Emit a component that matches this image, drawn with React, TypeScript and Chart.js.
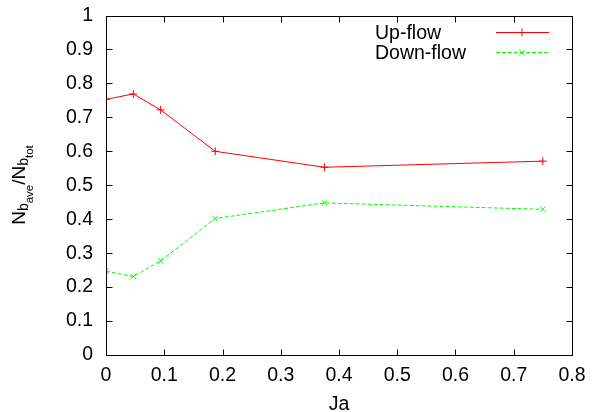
import React, { useEffect, useRef } from "react";
import { Chart, registerables } from "chart.js";

Chart.register(...registerables);

const ja = [0, 0.046875, 0.09375, 0.1875, 0.375, 0.75];
const upFlow = [0.753, 0.769, 0.722, 0.6, 0.553, 0.571];
const downFlow = [0.247, 0.231, 0.277, 0.402, 0.448, 0.429];
const seriesLabels = ["Up-flow", "Down-flow"];
const xTitle = "Ja";
const FONT = '"Liberation Sans", Arial, Helvetica, sans-serif';
const FS = 19.5;

function fmt(v: number) {
  return String(Number(v.toFixed(2)));
}

function drawMarker(ctx: CanvasRenderingContext2D, style: string, x: number, y: number, r: number) {
  ctx.beginPath();
  if (style === "cross") {
    ctx.moveTo(x - r, y);
    ctx.lineTo(x + r, y);
    ctx.moveTo(x, y - r);
    ctx.lineTo(x, y + r);
  } else {
    const d = r * 0.75;
    ctx.moveTo(x - d, y - d);
    ctx.lineTo(x + d, y + d);
    ctx.moveTo(x - d, y + d);
    ctx.lineTo(x + d, y - d);
  }
  ctx.stroke();
}

const framePlugin = {
  id: "gnuFrame",
  afterDraw(chart: any) {
    const ctx: CanvasRenderingContext2D = chart.ctx;
    const { left, right, top, bottom } = chart.chartArea;
    const xs = chart.scales.x;
    const ys = chart.scales.y;
    ctx.save();
    ctx.strokeStyle = "#000";
    ctx.lineWidth = 1;
    const L = Math.round(left) + 0.5;
    const R = Math.round(right) + 0.5;
    const T = Math.round(top) + 0.5;
    const B = Math.round(bottom) + 0.5;
    ctx.strokeRect(L, T, R - L, B - T);
    const tl = 6;
    ctx.beginPath();
    xs.ticks.forEach((t: any) => {
      const px = Math.round(xs.getPixelForValue(t.value)) + 0.5;
      ctx.moveTo(px, B);
      ctx.lineTo(px, B - tl);
      ctx.moveTo(px, T);
      ctx.lineTo(px, T + tl);
    });
    ys.ticks.forEach((t: any) => {
      const py = Math.round(ys.getPixelForValue(t.value)) + 0.5;
      ctx.moveTo(L, py);
      ctx.lineTo(L + tl, py);
      ctx.moveTo(R, py);
      ctx.lineTo(R - tl, py);
    });
    ctx.stroke();

    // legend
    const styles = ["cross", "crossRot"];
    chart.data.datasets.forEach((ds: any, i: number) => {
      const y = Math.round(top + 16 + i * 20.7) + 0.5;
      ctx.fillStyle = "#000";
      ctx.font = `${FS}px ${FONT}`;
      ctx.textAlign = "left";
      ctx.textBaseline = "middle";
      ctx.fillText(ds.label, right - 197, y + 1);
      ctx.strokeStyle = ds.borderColor;
      ctx.lineWidth = 1;
      ctx.setLineDash(ds.borderDash || []);
      ctx.beginPath();
      ctx.moveTo(right - 76, y);
      ctx.lineTo(right - 23, y);
      ctx.stroke();
      ctx.setLineDash([]);
      drawMarker(ctx, styles[i], right - 50, y, 4);
    });

    // x title
    ctx.fillStyle = "#000";
    ctx.font = `${FS}px ${FONT}`;
    ctx.textAlign = "center";
    ctx.textBaseline = "alphabetic";
    ctx.fillText(xTitle, (left + right) / 2, 410);

    // y title with subscripts
    const segs = [
      { t: "N", s: 19, dy: 0 },
      { t: "b", s: 14, dy: 3 },
      { t: "ave", s: 11.5, dy: 8 },
      { t: "/", s: 19, dy: 0 },
      { t: "N", s: 19, dy: 0 },
      { t: "b", s: 14, dy: 3 },
      { t: "tot", s: 11.5, dy: 8 },
    ];
    let total = 0;
    segs.forEach((sg) => {
      ctx.font = `${sg.s}px ${FONT}`;
      total += ctx.measureText(sg.t).width;
    });
    ctx.save();
    ctx.translate(25, 185);
    ctx.rotate(-Math.PI / 2);
    ctx.textAlign = "left";
    let cx = -total / 2;
    segs.forEach((sg) => {
      ctx.font = `${sg.s}px ${FONT}`;
      ctx.fillText(sg.t, cx, sg.dy);
      cx += ctx.measureText(sg.t).width;
    });
    ctx.restore();
    ctx.restore();
  },
};

export default function App() {
  const ref = useRef<HTMLCanvasElement | null>(null);
  useEffect(() => {
    if (!ref.current) return;
    const chart = new Chart(ref.current, {
      type: "line",
      data: {
        datasets: [
          {
            label: seriesLabels[0],
            data: ja.map((x, i) => ({ x, y: upFlow[i] })),
            borderColor: "#ff0000",
            backgroundColor: "#ff0000",
            borderWidth: 1,
            pointStyle: "cross",
            pointRadius: 4,
            pointBorderWidth: 1,
            pointBorderColor: "#ff0000",
            tension: 0,
          },
          {
            label: seriesLabels[1],
            data: ja.map((x, i) => ({ x, y: downFlow[i] })),
            borderColor: "#00ff00",
            backgroundColor: "#00ff00",
            borderWidth: 1,
            borderDash: [4, 2],
            pointStyle: "crossRot",
            pointRadius: 4,
            pointBorderWidth: 1,
            pointBorderColor: "#00ff00",
            tension: 0,
          },
        ],
      },
      options: {
        animation: false,
        responsive: true,
        maintainAspectRatio: false,
        layout: { padding: { top: 15.5, right: 20, left: 0, bottom: 0 } },
        plugins: { legend: { display: false }, tooltip: { enabled: false } },
        scales: {
          x: {
            type: "linear",
            min: 0,
            max: 0.8,
            grid: { display: false, drawTicks: false },
            border: { display: false },
            ticks: {
              stepSize: 0.1,
              padding: 9,
              color: "#000",
              font: { family: FONT, size: FS },
              maxRotation: 0,
              callback: (v: any) => fmt(Number(v)),
            },
            afterFit: (s: any) => {
              s.height = 57;
              s.paddingLeft = 0;
              s.paddingRight = 0;
            },
          },
          y: {
            type: "linear",
            min: 0,
            max: 1,
            grid: { display: false, drawTicks: false },
            border: { display: false },
            ticks: {
              stepSize: 0.1,
              padding: 13,
              color: "#000",
              font: { family: FONT, size: FS },
              callback: (v: any) => fmt(Number(v)),
            },
            afterFit: (s: any) => {
              s.width = 106;
              s.paddingTop = 0;
              s.paddingBottom = 0;
            },
          },
        },
      },
      plugins: [framePlugin],
    });
    return () => chart.destroy();
  }, []);
  return (
    <div style={{ position: "absolute", left: 0, top: 0, width: 592, height: 412 }}>
      <canvas ref={ref} />
    </div>
  );
}
